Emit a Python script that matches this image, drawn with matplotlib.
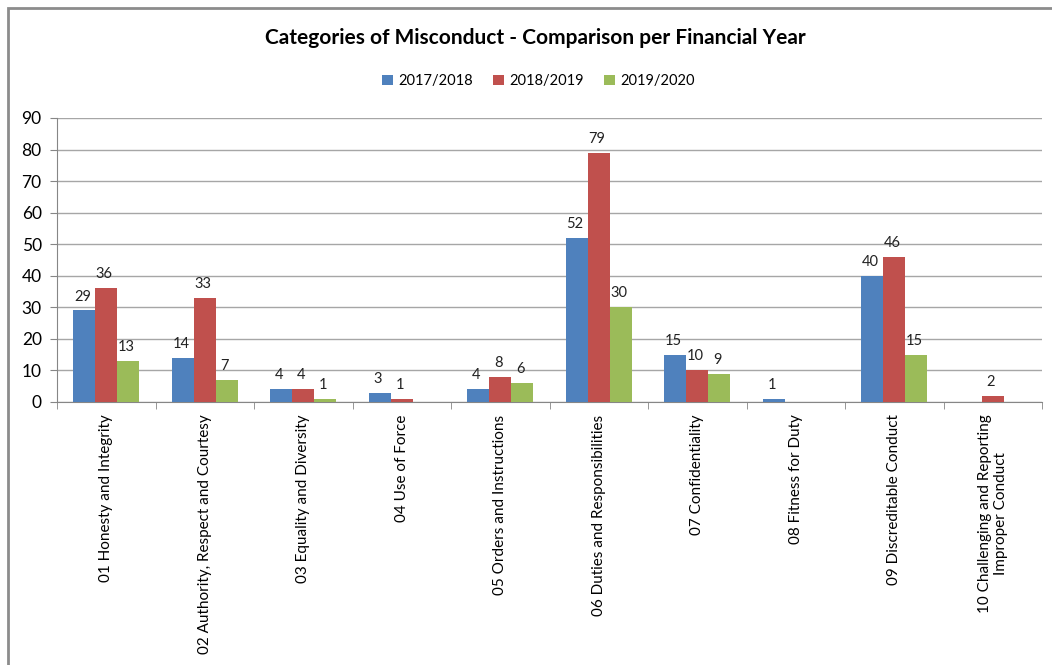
import matplotlib.pyplot as plt
from matplotlib.patches import Rectangle
import numpy as np

plt.rcParams['font.family'] = ['Lato', 'DejaVu Sans']

categories = [
    "01 Honesty and Integrity",
    "02 Authority, Respect and Courtesy",
    "03 Equality and Diversity",
    "04 Use of Force",
    "05 Orders and Instructions",
    "06 Duties and Responsibilities",
    "07 Confidentiality",
    "08 Fitness for Duty",
    "09 Discreditable Conduct",
    "10 Challenging and Reporting\nImproper Conduct",
]
years = ["2017/2018", "2018/2019", "2019/2020"]
fy_2017 = [29, 14, 4, 3, 4, 52, 15, 1, 40, None]
fy_2018 = [36, 33, 4, 1, 8, 79, 10, None, 46, 2]
fy_2019 = [13, 7, 1, None, 6, 30, 9, None, 15, None]
colors = ["#4F81BD", "#C0504D", "#9BBB59"]

fig = plt.figure(figsize=(10.52, 6.65), dpi=100)
ax = fig.add_axes([0.0542, 0.3955, 0.9363, 0.4271])

x = np.arange(len(categories))
w = 0.223
for i, (vals, c, lab) in enumerate(zip([fy_2017, fy_2018, fy_2019], colors, years)):
    h = [v if v is not None else 0 for v in vals]
    bars = ax.bar(x + (i - 1) * w, h, w, color=c, label=lab, zorder=3)
    for b, v in zip(bars, vals):
        if v is None:
            continue
        ax.text(b.get_x() + b.get_width() / 2 - 0.02, v + 2.2, str(v),
                ha="center", va="bottom", fontsize=10.5, color="#222222")

ax.set_xlim(-0.5, len(categories) - 0.5)
ax.set_ylim(0, 90)
ax.set_yticks(range(0, 91, 10))
ax.tick_params(axis="y", labelsize=12.5, length=5, color="#868686", pad=6)
ax.yaxis.grid(True, color="#a6a6a6", linewidth=1, zorder=0)

ax.set_xticks(x)
ax.set_xticklabels(categories, rotation=90, fontsize=11, ha="center", va="top",
                   multialignment="center")
ax.tick_params(axis="x", length=0, pad=9)
ax.set_xticks(np.arange(-0.5, len(categories)), minor=True)
ax.tick_params(axis="x", which="minor", length=5, color="#868686")

for s in ["top", "right"]:
    ax.spines[s].set_visible(False)
ax.spines["left"].set_color("#868686")
ax.spines["bottom"].set_color("#868686")

fig.text(0.509, 0.943, "Categories of Misconduct - Comparison per Financial Year",
         ha="center", va="center", fontsize=15, fontweight="bold")
fig.legend(loc="center", bbox_to_anchor=(0.512, 0.878), ncol=3, frameon=False,
           fontsize=10.5, handlelength=0.7, handleheight=0.7, handletextpad=0.4,
           columnspacing=1.4)

fig.patches.append(Rectangle((8 / 1052, -0.2), 1.2, 1 - 8.5 / 665 + 0.2,
                             transform=fig.transFigure, fill=False,
                             edgecolor="#8c8c8c", linewidth=2))

fig.savefig("out.png", dpi=100)
